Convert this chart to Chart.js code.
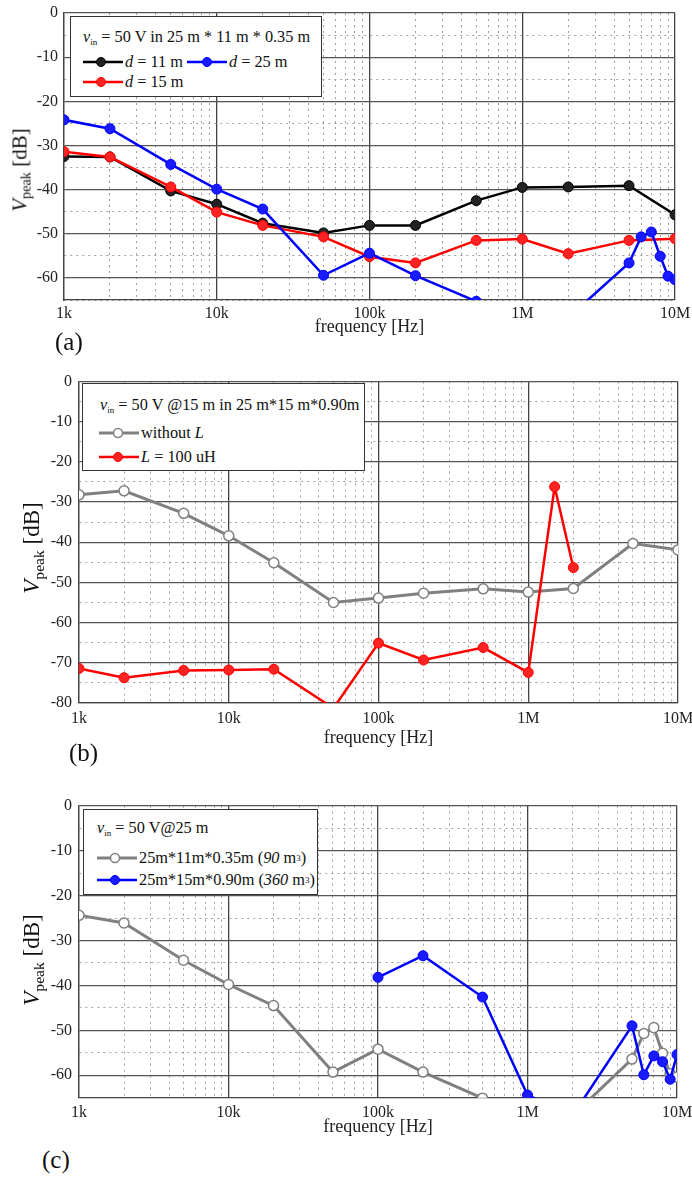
<!DOCTYPE html>
<html>
<head>
<meta charset="utf-8">
<script src="https://cdn.jsdelivr.net/npm/chart.js@4.4.1/dist/chart.umd.min.js"></script>
<style>
  body { margin: 0; background: #fff; }
  #wrap { position: relative; width: 692px; height: 1178px; overflow: hidden;
          font-family: "Liberation Serif", "Times New Roman", serif; color: #111; }
  canvas { position: absolute; left: 0; }
  .box { position: absolute; background: #fff; border: 1.5px solid #333; box-sizing: border-box; }
  .row { position: absolute; white-space: nowrap; font-size: 16.3px; transform: translateY(-50%);
         display: flex; align-items: center; }
  .row svg { margin-right: 2px; }
  .sub { font-size: 9px; position: relative; top: 5px; }
  .ytitle { position: absolute; white-space: nowrap; transform: translate(-50%, -50%) rotate(-90deg); }
  .ytitle .s { font-size: 0.68em; position: relative; top: 0.3em; }
  .panel { position: absolute; font-size: 25px; }
</style>
</head>
<body>
<div id="wrap">
  <canvas id="chartA" width="692" height="342" style="top:0px"></canvas>
  <canvas id="chartB" width="692" height="393" style="top:360px"></canvas>
  <canvas id="chartC" width="692" height="362" style="top:780px"></canvas>

  <!-- (a) -->
  <div class="ytitle" style="left:20px;top:170px;font-size:21px"><i>V</i><span class="s">peak</span> [dB]</div>
  <div class="box" style="left:70px;top:16px;width:252px;height:81px"></div>
  <div class="row" style="left:83px;top:37px"><i>v</i><span class="sub">in</span>&nbsp;= 50 V in 25 m * 11 m * 0.35 m</div>
  <div class="row" style="left:83px;top:62px">
    <svg width="40" height="12"><line x1="0" y1="6" x2="40" y2="6" stroke="#000" stroke-width="2.5"/><circle cx="18" cy="6" r="4.5" fill="#222" stroke="#000"/></svg>
    <i>d</i>&nbsp;= 11 m&nbsp;
    <svg width="40" height="12"><line x1="0" y1="6" x2="40" y2="6" stroke="#0000ff" stroke-width="2.5"/><circle cx="20" cy="6" r="4.5" fill="#1a1aff" stroke="#0000ff"/></svg>
    <i>d</i>&nbsp;= 25 m
  </div>
  <div class="row" style="left:83px;top:82px">
    <svg width="40" height="12"><line x1="0" y1="6" x2="40" y2="6" stroke="#ff0000" stroke-width="2.5"/><circle cx="18" cy="6" r="4.5" fill="#ff2222" stroke="#ff0000"/></svg>
    <i>d</i>&nbsp;= 15 m
  </div>
  <div class="panel" style="left:55px;top:328px">(a)</div>

  <!-- (b) -->
  <div class="ytitle" style="left:32px;top:548px;font-size:23px"><i>V</i><span class="s">peak</span> [dB]</div>
  <div class="box" style="left:82px;top:383px;width:283px;height:88px"></div>
  <div class="row" style="left:100px;top:405px"><i>v</i><span class="sub">in</span>&nbsp;= 50 V @15 m in 25 m*15 m*0.90m</div>
  <div class="row" style="left:99px;top:433px">
    <svg width="40" height="12"><line x1="0" y1="6" x2="40" y2="6" stroke="#808080" stroke-width="3"/><circle cx="19" cy="6" r="4.5" fill="#fff" stroke="#808080" stroke-width="1.5"/></svg>
    without&nbsp;<i>L</i>
  </div>
  <div class="row" style="left:99px;top:457px">
    <svg width="40" height="12"><line x1="0" y1="6" x2="40" y2="6" stroke="#ff0000" stroke-width="2.5"/><circle cx="19" cy="6" r="4.5" fill="#ff2222" stroke="#ff0000"/></svg>
    <i>L</i>&nbsp;= 100 uH
  </div>
  <div class="panel" style="left:69px;top:739px">(b)</div>

  <!-- (c) -->
  <div class="ytitle" style="left:32px;top:960px;font-size:23px"><i>V</i><span class="s">peak</span> [dB]</div>
  <div class="box" style="left:83px;top:809px;width:235px;height:86px"></div>
  <div class="row" style="left:97px;top:828px"><i>v</i><span class="sub">in</span>&nbsp;= 50 V@25 m</div>
  <div class="row" style="left:97px;top:858px">
    <svg width="40" height="12"><line x1="0" y1="6" x2="40" y2="6" stroke="#808080" stroke-width="3"/><circle cx="18" cy="6" r="4.5" fill="#fff" stroke="#808080" stroke-width="1.5"/></svg>
    25m*11m*0.35m (<i>90</i>&nbsp;m<sup style="font-size:9px">3</sup>)
  </div>
  <div class="row" style="left:97px;top:880px">
    <svg width="40" height="12"><line x1="0" y1="6" x2="40" y2="6" stroke="#0000ff" stroke-width="2.5"/><circle cx="18" cy="6" r="4.5" fill="#1a1aff" stroke="#0000ff"/></svg>
    25m*15m*0.90m (<i>360</i>&nbsp;m<sup style="font-size:9px">3</sup>)
  </div>
  <div class="panel" style="left:42px;top:1146px">(c)</div>
</div>

<script>
// ---- data ----
// (a) vin = 50 V in 25 m * 11 m * 0.35 m
const freqA = [1e3, 2e3, 5e3, 1e4, 2e4, 5e4, 1e5, 2e5, 5e5, 1e6, 2e6, 5e6, 1e7];
const d11 = [-32.5, -32.6, -40.3, -43.3, -47.6, -49.8, -48.1, -48.1, -42.5, -39.5, -39.4, -39.1, -45.7];
const d15 = [-31.4, -32.6, -39.4, -45.1, -48.1, -50.7, -55.2, -56.6, -51.5, -51.2, -54.5, -51.5, -51.1];
const freqA25 = [1e3, 2e3, 5e3, 1e4, 2e4, 5e4, 1e5, 2e5, 5e5, 1e6, 2e6, 5e6, 6e6, 7e6, 8e6, 9e6, 1e7];
const d25 = [-24.2, -26.2, -34.3, -39.9, -44.4, -59.4, -54.4, -59.5, -65.3, -70, -69, -56.6, -50.7, -49.6, -55.1, -59.6, -60.4];

// (b) vin = 50 V @15 m in 25 m*15 m*0.90m
const freqB = [1e3, 2e3, 5e3, 1e4, 2e4, 5e4, 1e5, 2e5, 5e5, 1e6, 2e6, 5e6, 1e7];
const withoutL = [-28.2, -27.2, -32.8, -38.4, -45.1, -55.0, -53.9, -52.7, -51.6, -52.4, -51.5, -40.3, -41.9];
const freqBL = [1e3, 2e3, 5e3, 1e4, 2e4, 5e4, 1e5, 2e5, 5e5, 1e6, 1.5e6, 2e6];
const withL = [-71.4, -73.7, -71.9, -71.8, -71.6, -81.3, -65.1, -69.3, -66.2, -72.4, -26.2, -46.3];

// (c) vin = 50 V@25 m
const freqC90 = [1e3, 2e3, 5e3, 1e4, 2e4, 5e4, 1e5, 2e5, 5e5, 1e6, 2e6, 5e6, 6e6, 7e6, 8e6, 9e6, 1e7];
const room90 = [-24.4, -26.1, -34.4, -39.8, -44.5, -59.3, -54.2, -59.3, -65.1, -70, -69, -56.4, -50.7, -49.4, -55.1, -59.6, -60.4];
const freqC360 = [1e5, 2e5, 5e5, 1e6, 2e6, 5e6, 6e6, 7e6, 8e6, 9e6, 1e7];
const room360 = [-38.2, -33.4, -42.6, -64.4, -69, -49.0, -59.9, -55.7, -57.0, -60.9, -55.4];

const decadeLabels = { 1e3: '1k', 1e4: '10k', 1e5: '100k', 1e6: '1M', 1e7: '10M' };

// x grid: 1..9 per decade from 1k to 10M
const xTicks = [];
for (let d = 1e3; d < 1e7; d *= 10) {
    for (let m = 1; m <= 9; m++) xTicks.push(m * d);
}
xTicks.push(1e7);

function pts(xs, ys) {
    return xs.map((x, i) => ({ x: x, y: ys[i] }));
}

function isDecade(v) {
    return decadeLabels[Math.round(v)] !== undefined;
}

function filled(color, pointColor, label, xs, ys) {
    return {
        label: label, data: pts(xs, ys),
        borderColor: color, borderWidth: 2.5,
        pointBackgroundColor: pointColor, pointBorderColor: color,
        pointRadius: 5, pointBorderWidth: 1,
        tension: 0, clip: 0
    };
}

function hollow(label, xs, ys) {
    return {
        label: label, data: pts(xs, ys),
        borderColor: '#808080', borderWidth: 3,
        pointBackgroundColor: '#fff', pointBorderColor: '#808080',
        pointRadius: 5, pointBorderWidth: 1.5,
        tension: 0, clip: 0
    };
}

// g: chart area geometry inside the canvas
function makeChart(id, g, yMin, datasets) {
    const ctx = document.getElementById(id).getContext('2d');
    return new Chart(ctx, {
        type: 'line',
        data: { datasets: datasets },
        options: {
            responsive: false,
            animation: false,
            devicePixelRatio: 1,
            layout: { padding: { top: g.top, right: g.right, left: 0, bottom: 0 } },
            plugins: { legend: { display: false }, tooltip: { enabled: false } },
            scales: {
                x: {
                    type: 'logarithmic', min: 1e3, max: 1e7,
                    afterBuildTicks: s => { s.ticks = xTicks.map(v => ({ value: v })); },
                    afterFit: s => { s.height = g.xh; s.paddingLeft = 0; s.paddingRight = 0; },
                    ticks: {
                        autoSkip: false, maxRotation: 0, padding: g.xpad,
                        color: '#222', font: { family: 'Liberation Serif', size: 16 },
                        callback: v => decadeLabels[Math.round(v)] || ''
                    },
                    grid: {
                        drawTicks: false,
                        color: c => isDecade(c.tick.value) ? '#444' : '#a0a0a0',
                        lineWidth: c => isDecade(c.tick.value) ? 1.3 : 1,
                        dash: c => isDecade(c.tick.value) ? [] : [2, 4]
                    },
                    border: {
                        color: '#444', width: 1.3,
                        dash: c => (c.tick && !isDecade(c.tick.value)) ? [2, 4] : []
                    },
                    title: {
                        display: true, text: 'frequency [Hz]', color: '#222',
                        font: { family: 'Liberation Serif', size: 18 }, padding: { top: 0, bottom: 4 }
                    }
                },
                y: {
                    min: yMin, max: 0,
                    afterFit: s => { s.width = g.left; s.paddingTop = 0; s.paddingBottom = 0; },
                    ticks: {
                        stepSize: 5, padding: g.ypad, autoSkip: false,
                        color: '#222', font: { family: 'Liberation Serif', size: 16 },
                        callback: v => (v % 10 === 0 ? String(v) : '')
                    },
                    grid: {
                        drawTicks: false,
                        color: c => (c.tick.value % 10 === 0) ? '#555' : '#a0a0a0',
                        lineWidth: c => (c.tick.value % 10 === 0) ? 1.3 : 1,
                        dash: c => (c.tick.value % 10 === 0) ? [] : [2, 4]
                    },
                    border: {
                        color: '#444', width: 1.3,
                        dash: c => (c.tick && c.tick.value % 10 !== 0) ? [2, 4] : []
                    }
                }
            }
        }
    });
}

makeChart('chartA', { left: 64, top: 13, right: 17, xh: 42, xpad: 4, ypad: 6 }, -65, [
    filled('#0000ff', '#1a1aff', 'd = 25 m', freqA25, d25),
    filled('#ff0000', '#ff2222', 'd = 15 m', freqA, d15),
    filled('#000000', '#222222', 'd = 11 m', freqA, d11)
]);

makeChart('chartB', { left: 79, top: 21.5, right: 14, xh: 50, xpad: 6, ypad: 7 }, -80, [
    filled('#ff0000', '#ff2222', 'L = 100 uH', freqBL, withL),
    hollow('without L', freqB, withoutL)
]);

makeChart('chartC', { left: 79, top: 25.7, right: 15, xh: 44.3, xpad: 5, ypad: 7 }, -65, [
    filled('#0000ff', '#1a1aff', '25m*15m*0.90m (360 m3)', freqC360, room360),
    hollow('25m*11m*0.35m (90 m3)', freqC90, room90)
]);
</script>
</body>
</html>
